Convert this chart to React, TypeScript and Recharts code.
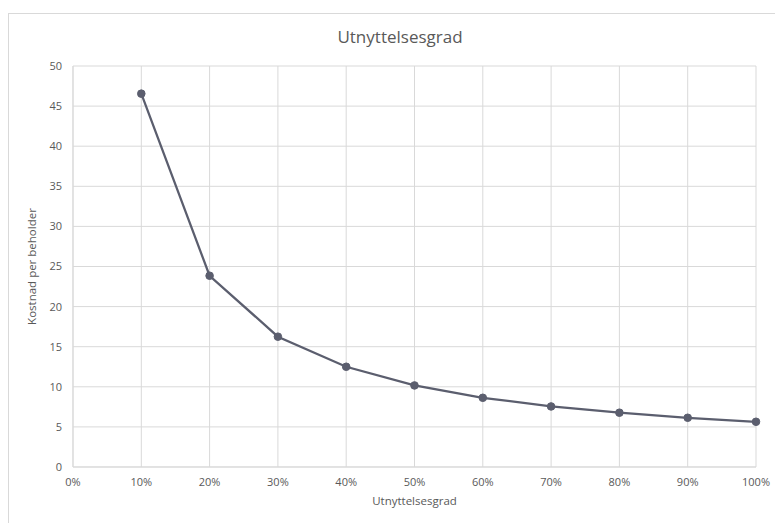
import React from "react";
import { LineChart, Line, XAxis, YAxis, CartesianGrid, Label } from "recharts";

const utilization = [0.1, 0.2, 0.3, 0.4, 0.5, 0.6, 0.7, 0.8, 0.9, 1.0];
const costPerContainer = [46.55, 23.85, 16.25, 12.5, 10.17, 8.63, 7.55, 6.77, 6.14, 5.64];
const xTicks = [0, 0.1, 0.2, 0.3, 0.4, 0.5, 0.6, 0.7, 0.8, 0.9, 1.0];
const yTicks = [0, 5, 10, 15, 20, 25, 30, 35, 40, 45, 50];

const data = utilization.map((u, i) => ({ u, cost: costPerContainer[i] }));

const FONT = "'Open Sans', 'Liberation Sans', sans-serif";
const TEXT = "#595959";
const GRID = "#d9d9d9";
const LINE = "#5b5e6e";

export default function App() {
  return (
    <div style={{ position: "absolute", left: 0, top: 0, width: 775, height: 523, background: "#fff", fontFamily: FONT, overflow: "hidden" }}>
      <div style={{ position: "absolute", left: 8, top: 13, width: 775, height: 520, border: "1px solid #d9d9d9", boxSizing: "border-box" }} />
      <div style={{ position: "absolute", left: 8, top: 25, width: 784, textAlign: "center", fontSize: 17, color: TEXT, lineHeight: "24px" }}>
        Utnyttelsesgrad
      </div>
      <div style={{ position: "absolute", left: 0, top: 0 }}>
        <LineChart width={775} height={523} data={data} margin={{ top: 66, right: 19, bottom: 26, left: 33 }}>
          <CartesianGrid stroke={GRID} strokeWidth={1} />
          <XAxis
            dataKey="u"
            type="number"
            domain={[0, 1]}
            ticks={xTicks}
            interval={0}
            tickFormatter={(v: number) => `${Math.round(v * 100)}%`}
            axisLine={{ stroke: GRID }}
            tickLine={false}
            tickSize={0}
            tickMargin={11}
            height={30}
            tick={{ fill: TEXT, fontSize: 11, fontFamily: FONT }}
          >
            <Label value="Utnyttelsesgrad" position="bottom" offset={0} fill={TEXT} fontSize={11.5} fontFamily={FONT} />
          </XAxis>
          <YAxis
            type="number"
            domain={[0, 50]}
            ticks={yTicks}
            interval={0}
            axisLine={{ stroke: GRID }}
            tickLine={false}
            tickSize={0}
            tickMargin={11}
            width={40}
            tick={{ fill: TEXT, fontSize: 11, fontFamily: FONT }}
          >
            <Label value="Kostnad per beholder" angle={-90} position="insideLeft" offset={-1} style={{ textAnchor: "middle" }} fill={TEXT} fontSize={11.5} fontFamily={FONT} />
          </YAxis>
          <Line
            type="linear"
            dataKey="cost"
            stroke={LINE}
            strokeWidth={2.25}
            dot={{ r: 3.8, fill: LINE, stroke: LINE, strokeWidth: 1 }}
            isAnimationActive={false}
          />
        </LineChart>
      </div>
    </div>
  );
}
